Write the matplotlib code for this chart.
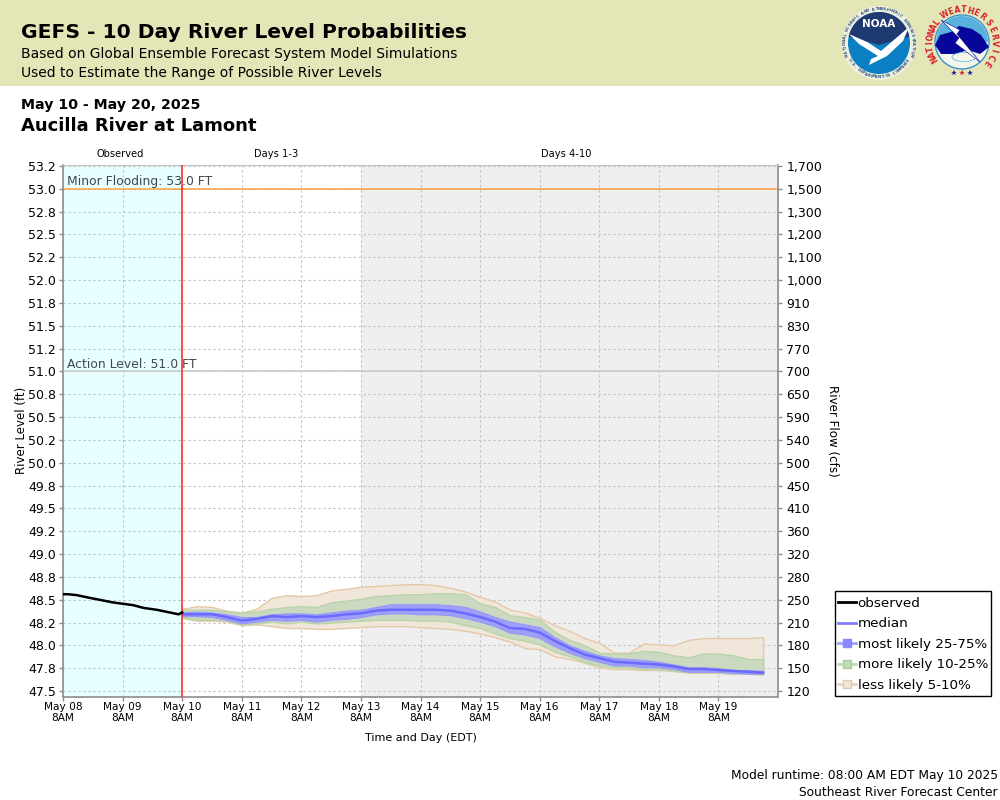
import numpy as np
import matplotlib
matplotlib.use('Agg')
import matplotlib.pyplot as plt
from matplotlib.lines import Line2D
from matplotlib.patches import Circle, Ellipse, Rectangle, Polygon

# tick labels
day_labels = ['May 08', 'May 09', 'May 10', 'May 11', 'May 12', 'May 13',
              'May 14', 'May 15', 'May 16', 'May 17', 'May 18', 'May 19']
level_ticks = [47.5 + 0.25 * i for i in range(24)]
level_labels = ['47.5', '47.8', '48.0', '48.2', '48.5', '48.8', '49.0', '49.2',
                '49.5', '49.8', '50.0', '50.2', '50.5', '50.8', '51.0', '51.2',
                '51.5', '51.8', '52.0', '52.2', '52.5', '52.8', '53.0', '53.2']
flow_labels = ['120', '150', '180', '210', '250', '280', '320', '360',
               '410', '450', '500', '540', '590', '650', '700', '770',
               '830', '910', '1,000', '1,100', '1,200', '1,300', '1,500', '1,700']

# observed stage, days since May 08 8AM
obs_days = [0, 0.08, 0.23, 0.45, 0.84, 1.18, 1.35, 1.57, 1.94, 2.0]
obs_level = [48.56, 48.56, 48.55, 48.52, 48.47, 48.44, 48.41, 48.39, 48.34, 48.36]

# forecast, every 6 hours from May 10 8AM
fc_days = [2 + 0.25 * i for i in range(40)]
median = [48.34, 48.34, 48.34, 48.31, 48.27, 48.29, 48.32, 48.31, 48.32, 48.31,
          48.32, 48.34, 48.35, 48.38, 48.39, 48.39, 48.39, 48.39, 48.38, 48.35,
          48.31, 48.26, 48.19, 48.18, 48.14, 48.05, 47.97, 47.90, 47.86, 47.82,
          47.81, 47.80, 47.79, 47.77, 47.74, 47.74, 47.73, 47.72, 47.71, 47.70]
p75 = [48.36, 48.37, 48.36, 48.34, 48.31, 48.31, 48.34, 48.35, 48.35, 48.34,
       48.36, 48.38, 48.39, 48.42, 48.45, 48.45, 48.45, 48.45, 48.44, 48.42,
       48.37, 48.31, 48.26, 48.23, 48.20, 48.09, 48.00, 47.94, 47.89, 47.86,
       47.85, 47.84, 47.82, 47.79, 47.76, 47.76, 47.75, 47.73, 47.73, 47.72]
p25 = [48.32, 48.32, 48.31, 48.28, 48.24, 48.26, 48.28, 48.27, 48.28, 48.26,
       48.28, 48.29, 48.31, 48.34, 48.35, 48.35, 48.34, 48.34, 48.33, 48.30,
       48.26, 48.21, 48.14, 48.12, 48.08, 47.99, 47.92, 47.86, 47.82, 47.78,
       47.78, 47.76, 47.76, 47.74, 47.71, 47.71, 47.71, 47.70, 47.69, 47.69]
p90 = [48.39, 48.39, 48.39, 48.37, 48.36, 48.37, 48.40, 48.42, 48.43, 48.42,
       48.47, 48.49, 48.51, 48.54, 48.55, 48.56, 48.56, 48.57, 48.57, 48.56,
       48.46, 48.42, 48.33, 48.31, 48.28, 48.15, 48.06, 48.00, 47.92, 47.91,
       47.91, 47.94, 47.93, 47.89, 47.87, 47.91, 47.91, 47.89, 47.85, 47.85]
p10 = [48.31, 48.28, 48.28, 48.27, 48.23, 48.24, 48.26, 48.24, 48.26, 48.24,
       48.25, 48.26, 48.27, 48.28, 48.28, 48.28, 48.27, 48.27, 48.26, 48.22,
       48.19, 48.13, 48.08, 48.05, 48.01, 47.93, 47.88, 47.82, 47.78, 47.76,
       47.76, 47.74, 47.74, 47.72, 47.71, 47.71, 47.70, 47.69, 47.69, 47.68]
p95 = [48.40, 48.43, 48.42, 48.38, 48.36, 48.40, 48.52, 48.55, 48.54, 48.55,
       48.60, 48.62, 48.64, 48.65, 48.66, 48.67, 48.67, 48.66, 48.63, 48.59,
       48.53, 48.48, 48.39, 48.36, 48.30, 48.22, 48.16, 48.08, 48.03, 47.92,
       47.92, 48.02, 48.01, 48.00, 48.06, 48.08, 48.08, 48.08, 48.08, 48.09]
p5 = [48.30, 48.27, 48.27, 48.26, 48.22, 48.23, 48.21, 48.19, 48.19, 48.18,
      48.18, 48.19, 48.20, 48.21, 48.21, 48.21, 48.20, 48.19, 48.18, 48.16,
      48.13, 48.09, 48.04, 47.97, 47.96, 47.88, 47.85, 47.81, 47.76, 47.74,
      47.74, 47.73, 47.73, 47.72, 47.70, 47.70, 47.70, 47.69, 47.69, 47.68]

W, H = 1000, 800
GRAY = '#8c8c8c'

fig = plt.figure(figsize=(10, 8), dpi=100)

# page layer in pixel coordinates: banner, headings, logos
page = fig.add_axes([0, 0, 1, 1])
page.set_xlim(0, W)
page.set_ylim(H, 0)
page.axis('off')
page.add_patch(Rectangle((0, 0), W, 86, color='#e5e6b8', lw=0))
page.text(21, 33, 'GEFS - 10 Day River Level Probabilities', fontsize=14.55,
          fontweight='bold', va='center')
page.text(21, 54, 'Based on Global Ensemble Forecast System Model Simulations',
          fontsize=10, va='center')
page.text(21, 73, 'Used to Estimate the Range of Possible River Levels',
          fontsize=10, va='center')
page.text(21, 105, 'May 10 - May 20, 2025', fontsize=10.2, fontweight='bold', va='center')
page.text(21, 126, 'Aucilla River at Lamont', fontsize=13, fontweight='bold', va='center')
page.text(120, 154, 'Observed', fontsize=7.1, ha='center', va='center')
page.text(276, 154, 'Days 1-3', fontsize=7.1, ha='center', va='center')
page.text(566, 154, 'Days 4-10', fontsize=7.1, ha='center', va='center')
page.text(998, 776, 'Model runtime: 08:00 AM EDT May 10 2025', fontsize=8.8, ha='right', va='center')
page.text(998, 792, 'Southeast River Forecast Center', fontsize=8.8, ha='right', va='center')


def ring_text(cx, cy, r, text, start, end, color, size, bottom=False):
    # letters placed one by one along an arc, angles in degrees
    turn = 90 if bottom else -90
    for ang, ch in zip(np.linspace(start, end, len(text)), text):
        a = np.radians(ang)
        page.text(cx + r * np.cos(a), cy - r * np.sin(a), ch, color=color,
                  fontsize=size, ha='center', va='center', rotation=ang + turn,
                  fontweight='bold')


# NOAA logo
cx, cy = 879, 43
page.add_patch(Circle((cx, cy), 37, fc='#eef0e0', ec='none'))
page.add_patch(Circle((cx, cy), 31, fc='#0a7fc4', ec='none'))
t = np.radians(np.linspace(12, 168, 30))
page.add_patch(Polygon(np.column_stack([cx + 31 * np.cos(t), cy - 31 * np.sin(t)]).tolist()
                       + [[cx, cy + 2]], fc='#1f3a70', ec='none'))
page.add_patch(Polygon([[cx - 30, cy - 9], [cx - 12, cy - 1], [cx + 2, cy + 8],
                        [cx + 30, cy - 16], [cx + 24, cy - 2], [cx + 8, cy + 13],
                        [cx - 10, cy + 22], [cx - 8, cy + 16], [cx - 1, cy + 13], [cx - 20, cy + 1]],
                       fc='white', ec='none'))
page.text(cx, cy - 19, 'NOAA', color='white', fontsize=7.5, ha='center', va='center',
          fontweight='bold')
ring_text(cx, cy, 34, 'NATIONAL OCEANIC AND ATMOSPHERIC ADMINISTRATION', 200, -20,
          '#30507a', 2.7)
ring_text(cx, cy, 34, 'U.S. DEPARTMENT OF COMMERCE', -150, -30, '#30507a', 2.7, bottom=True)

# NWS logo
cx, cy = 962, 42
page.add_patch(Circle((cx, cy), 27, fc='#f4f6ec', ec='#3a90d0', lw=1))
t = np.radians(np.linspace(0, 180, 30))
page.add_patch(Polygon(np.column_stack([cx + 26 * np.cos(t), cy - 26 * np.sin(t)]).tolist(),
                       fc='#58b0dc', ec='none'))
page.add_patch(Polygon([[cx - 27, cy + 3], [cx - 22, cy - 7], [cx - 11, cy - 10], [cx - 3, cy - 16],
                        [cx + 10, cy - 13], [cx + 19, cy - 7], [cx + 27, cy + 5], [cx + 18, cy + 12],
                        [cx + 6, cy + 8], [cx - 7, cy + 12], [cx - 21, cy + 12]],
                       fc='#06069a', ec='none'))
page.add_patch(Ellipse((cx + 2, cy + 15), 24, 9, fc='#f4f6ec', ec='#58b0dc', lw=0.5))
page.add_patch(Polygon([[cx - 21, cy - 22], [cx - 2, cy - 12], [cx - 5, cy - 8], [cx + 18, cy + 20],
                        [cx - 7, cy + 1], [cx - 3, cy - 4]], fc='white', ec='#06069a', lw=0.4))
ring_text(cx, cy, 32, 'NATIONAL', 212, 142, '#d8202a', 5.6)
ring_text(cx, cy, 32, 'WEATHER', 122, 52, '#d8202a', 5.6)
ring_text(cx, cy, 32, 'SERVICE', 36, -40, '#d8202a', 5.6)
for dx, col in [(-8, '#1a1a9a'), (0, '#d8202a'), (8, '#1a1a9a')]:
    page.plot(cx + dx, cy + 31, marker='*', ms=4, color=col, mew=0)

# legend box
page.add_patch(Rectangle((835, 591), 156, 105, fc='white', ec='black', lw=1))

# main chart
ax = fig.add_axes([63 / W, 1 - 696.5 / H, 715 / W, 531.5 / H])
ax.set_xlim(0, 12)
ax.set_ylim(47.44, 53.26)
ax.axvspan(0, 2, color='#e8ffff', lw=0, zorder=0)
ax.axvspan(5, 12, color='#efefef', lw=0, zorder=0)
ax.set_xticks(range(12))
ax.set_xticklabels([d + '\n8AM' for d in day_labels], fontsize=7.6, linespacing=1.15)
ax.set_yticks(level_ticks)
ax.set_yticklabels(level_labels, fontsize=9)
ax.grid(True, color='#c0c0c0', ls=(0, (2, 2.5)), lw=0.8, zorder=1)
ax.set_axisbelow(True)
ax.tick_params(axis='both', color=GRAY, length=3, width=1, pad=2)
ax.tick_params(axis='x', pad=1)
ax.set_xlabel('Time and Day (EDT)', fontsize=8, labelpad=7)
ax.set_ylabel('River Level (ft)', fontsize=8.5, labelpad=0)
for side in ['left', 'bottom', 'right']:
    ax.spines[side].set_color(GRAY)
    ax.spines[side].set_linewidth(1.2)
ax.spines['top'].set_color('#c4c4c4')

ax.axhline(53.0, color='#ffa040', lw=1.1, zorder=2)
ax.axhline(51.0, color='#c8c8c8', lw=1.1, zorder=2)
ax.text(0.07, 53.0 + 0.08, 'Minor Flooding: 53.0 FT', fontsize=8.9, color='#404850', va='center', zorder=6)
ax.text(0.07, 51.0 + 0.07, 'Action Level: 51.0 FT', fontsize=8.9, color='#404850', va='center', zorder=6)
ax.axvline(2, color='#ff2020', lw=1.1, zorder=5)

ax.fill_between(fc_days, p5, p95, facecolor='#f0e7da', edgecolor='#e4c8a8', lw=1.0, zorder=3)
ax.fill_between(fc_days, p10, p90, facecolor='#cbd9c1', edgecolor='#b8d4a8', lw=1.0, zorder=3)
ax.fill_between(fc_days, p25, p75, facecolor='#9f9ffa', edgecolor='#9696fa', lw=0.8, zorder=3)
ax.plot(fc_days, median, color='#6a6aff', lw=1.8, zorder=4)
ax.plot(obs_days, obs_level, color='black', lw=1.8, zorder=6)

# right axis carries the rating curve labels at the same stage positions
ax2 = ax.twinx()
ax2.set_ylim(ax.get_ylim())
ax2.set_yticks(level_ticks)
ax2.set_yticklabels(flow_labels, fontsize=9)
ax2.tick_params(axis='y', color=GRAY, length=3, width=1, pad=3)
for s in ax2.spines.values():
    s.set_visible(False)
page.text(832, 431, 'River Flow (cfs)', fontsize=8.6, rotation=-90, ha='center', va='center')

handles = [
    Line2D([], [], color='black', lw=2),
    Line2D([], [], color='#8080ff', lw=2),
    Line2D([], [], color='#a0a0ff', lw=2, marker='s', ms=6, mfc='#8888ff', mec='#8888ff'),
    Line2D([], [], color='#c4dcb4', lw=2, marker='s', ms=6, mfc='#c4dcb4', mec='#a8cc98'),
    Line2D([], [], color='#e8d4bc', lw=2, marker='s', ms=6, mfc='#f0e7da', mec='#e4c8a8'),
]
fig.legend(handles, ['observed', 'median', 'most likely 25-75%', 'more likely 10-25%',
                     'less likely 5-10%'],
           loc='lower left', bbox_to_anchor=(838 / W, 1 - 692 / H), fontsize=9.7,
           frameon=False, handlelength=1.35, handletextpad=0.1, labelspacing=0.56,
           borderpad=0, borderaxespad=0)

plt.savefig('out.png', dpi=100)
plt.close()
